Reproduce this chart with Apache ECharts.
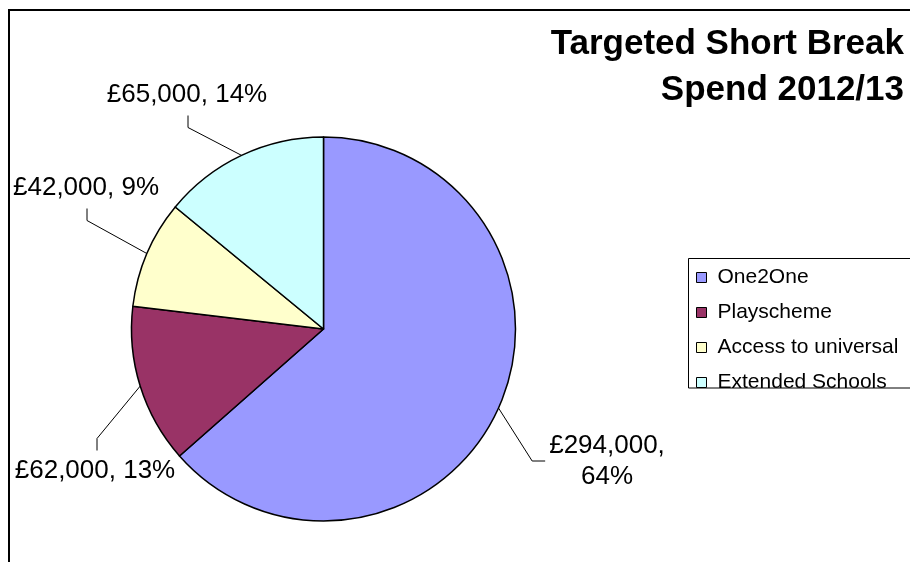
<!DOCTYPE html>
<html>
<head>
<meta charset="utf-8">
<script src="https://cdn.jsdelivr.net/npm/echarts@6/dist/echarts.min.js"></script>
<style>
  html, body { margin: 0; padding: 0; background: #fff; }
  #chart { width: 910px; height: 562px; }
</style>
</head>
<body>
<div id="chart"></div>
<script>
// --- data ---
const categories = ['One2One', 'Playscheme', 'Access to universal', 'Extended Schools'];
const spend = [294000, 62000, 42000, 65000];
const sliceColors = ['#9999ff', '#993366', '#ffffcc', '#ccffff'];
const titleText = 'Targeted Short Break\nSpend 2012/13';

// Excel placed each data label by hand: text centre and the side its leader joins
const labelSpots = [[607, 461, 'left'], [95, 471, 'top'], [86, 188, 'bottom'], [187, 95, 'bottom']];
const wrapLabel = [true, false, false, false];

const FONT = '"Liberation Sans", Arial, sans-serif';

const chart = echarts.init(document.getElementById('chart'), null, { renderer: 'canvas' });

function money(v) {
    return '£' + v.toLocaleString('en-GB');
}

chart.setOption({
    animation: false,
    backgroundColor: '#fff',
    color: sliceColors,
    legend: {
        orient: 'vertical',
        left: 696,
        top: 267,
        padding: 0,
        itemWidth: 10,
        itemHeight: 10,
        itemGap: 14,
        icon: 'rect',
        selectedMode: false,
        itemStyle: { borderColor: '#000', borderWidth: 1 },
        textStyle: { fontFamily: FONT, fontSize: 21, color: '#000', padding: [0, 0, 0, 6] },
        data: categories
    },
    graphic: [
        {   // chart area frame, runs off the right and bottom edges
            type: 'rect', silent: true,
            shape: { x: 9, y: 10, width: 1000, height: 1000 },
            style: { fill: 'none', stroke: '#000', lineWidth: 2 }
        },
        {   // legend box
            type: 'rect', silent: true,
            shape: { x: 688.5, y: 258.5, width: 300, height: 129.5 },
            style: { fill: 'none', stroke: '#000', lineWidth: 1 }
        },
        {   // title, right aligned and clipped like the original
            type: 'text', silent: true,
            x: 904, y: 21,
            style: {
                text: titleText,
                align: 'right',
                verticalAlign: 'top',
                fontFamily: FONT, fontSize: 35, fontWeight: 'bold',
                lineHeight: 46,
                fill: '#000'
            }
        }
    ],
    series: [{
        type: 'pie',
        center: [323.5, 329],
        radius: 192,
        startAngle: 90,
        clockwise: true,
        avoidLabelOverlap: false,
        emphasis: { disabled: true },
        itemStyle: { borderColor: '#000', borderWidth: 1.5 },
        label: {
            show: true,
            position: 'outside',
            overflow: 'none',
            fontFamily: FONT,
            fontSize: 26,
            lineHeight: 31,
            color: '#000',
            formatter: p => money(p.value) + ',' + (wrapLabel[p.dataIndex] ? '\n' : ' ') + Math.round(p.percent) + '%'
        },
        labelLine: { show: true, length: 15, length2: 12, lineStyle: { color: '#000', width: 1 } },
        labelLayout: function (p) {
            const spot = labelSpots[p.dataIndex];
            const cx = spot[0], cy = spot[1], side = spot[2];
            const w = p.labelRect.width, h = p.labelRect.height;
            let end, elbow;
            if (side === 'left') {
                end = [cx - w / 2 - 4, cy];
                elbow = [end[0] - 13, cy];
            } else if (side === 'top') {
                end = [cx + 2, cy - h / 2 - 5];
                elbow = [end[0], end[1] - 12];
            } else {
                end = [cx + 1, cy + h / 2 + 5];
                elbow = [end[0], end[1] + 12];
            }
            const out = { x: cx, y: cy, align: 'center', verticalAlign: 'middle' };
            if (p.labelLinePoints) out.labelLinePoints = [p.labelLinePoints[0], elbow, end];
            return out;
        },
        data: categories.map((name, i) => ({ name: name, value: spend[i] }))
    }]
});
</script>
</body>
</html>
